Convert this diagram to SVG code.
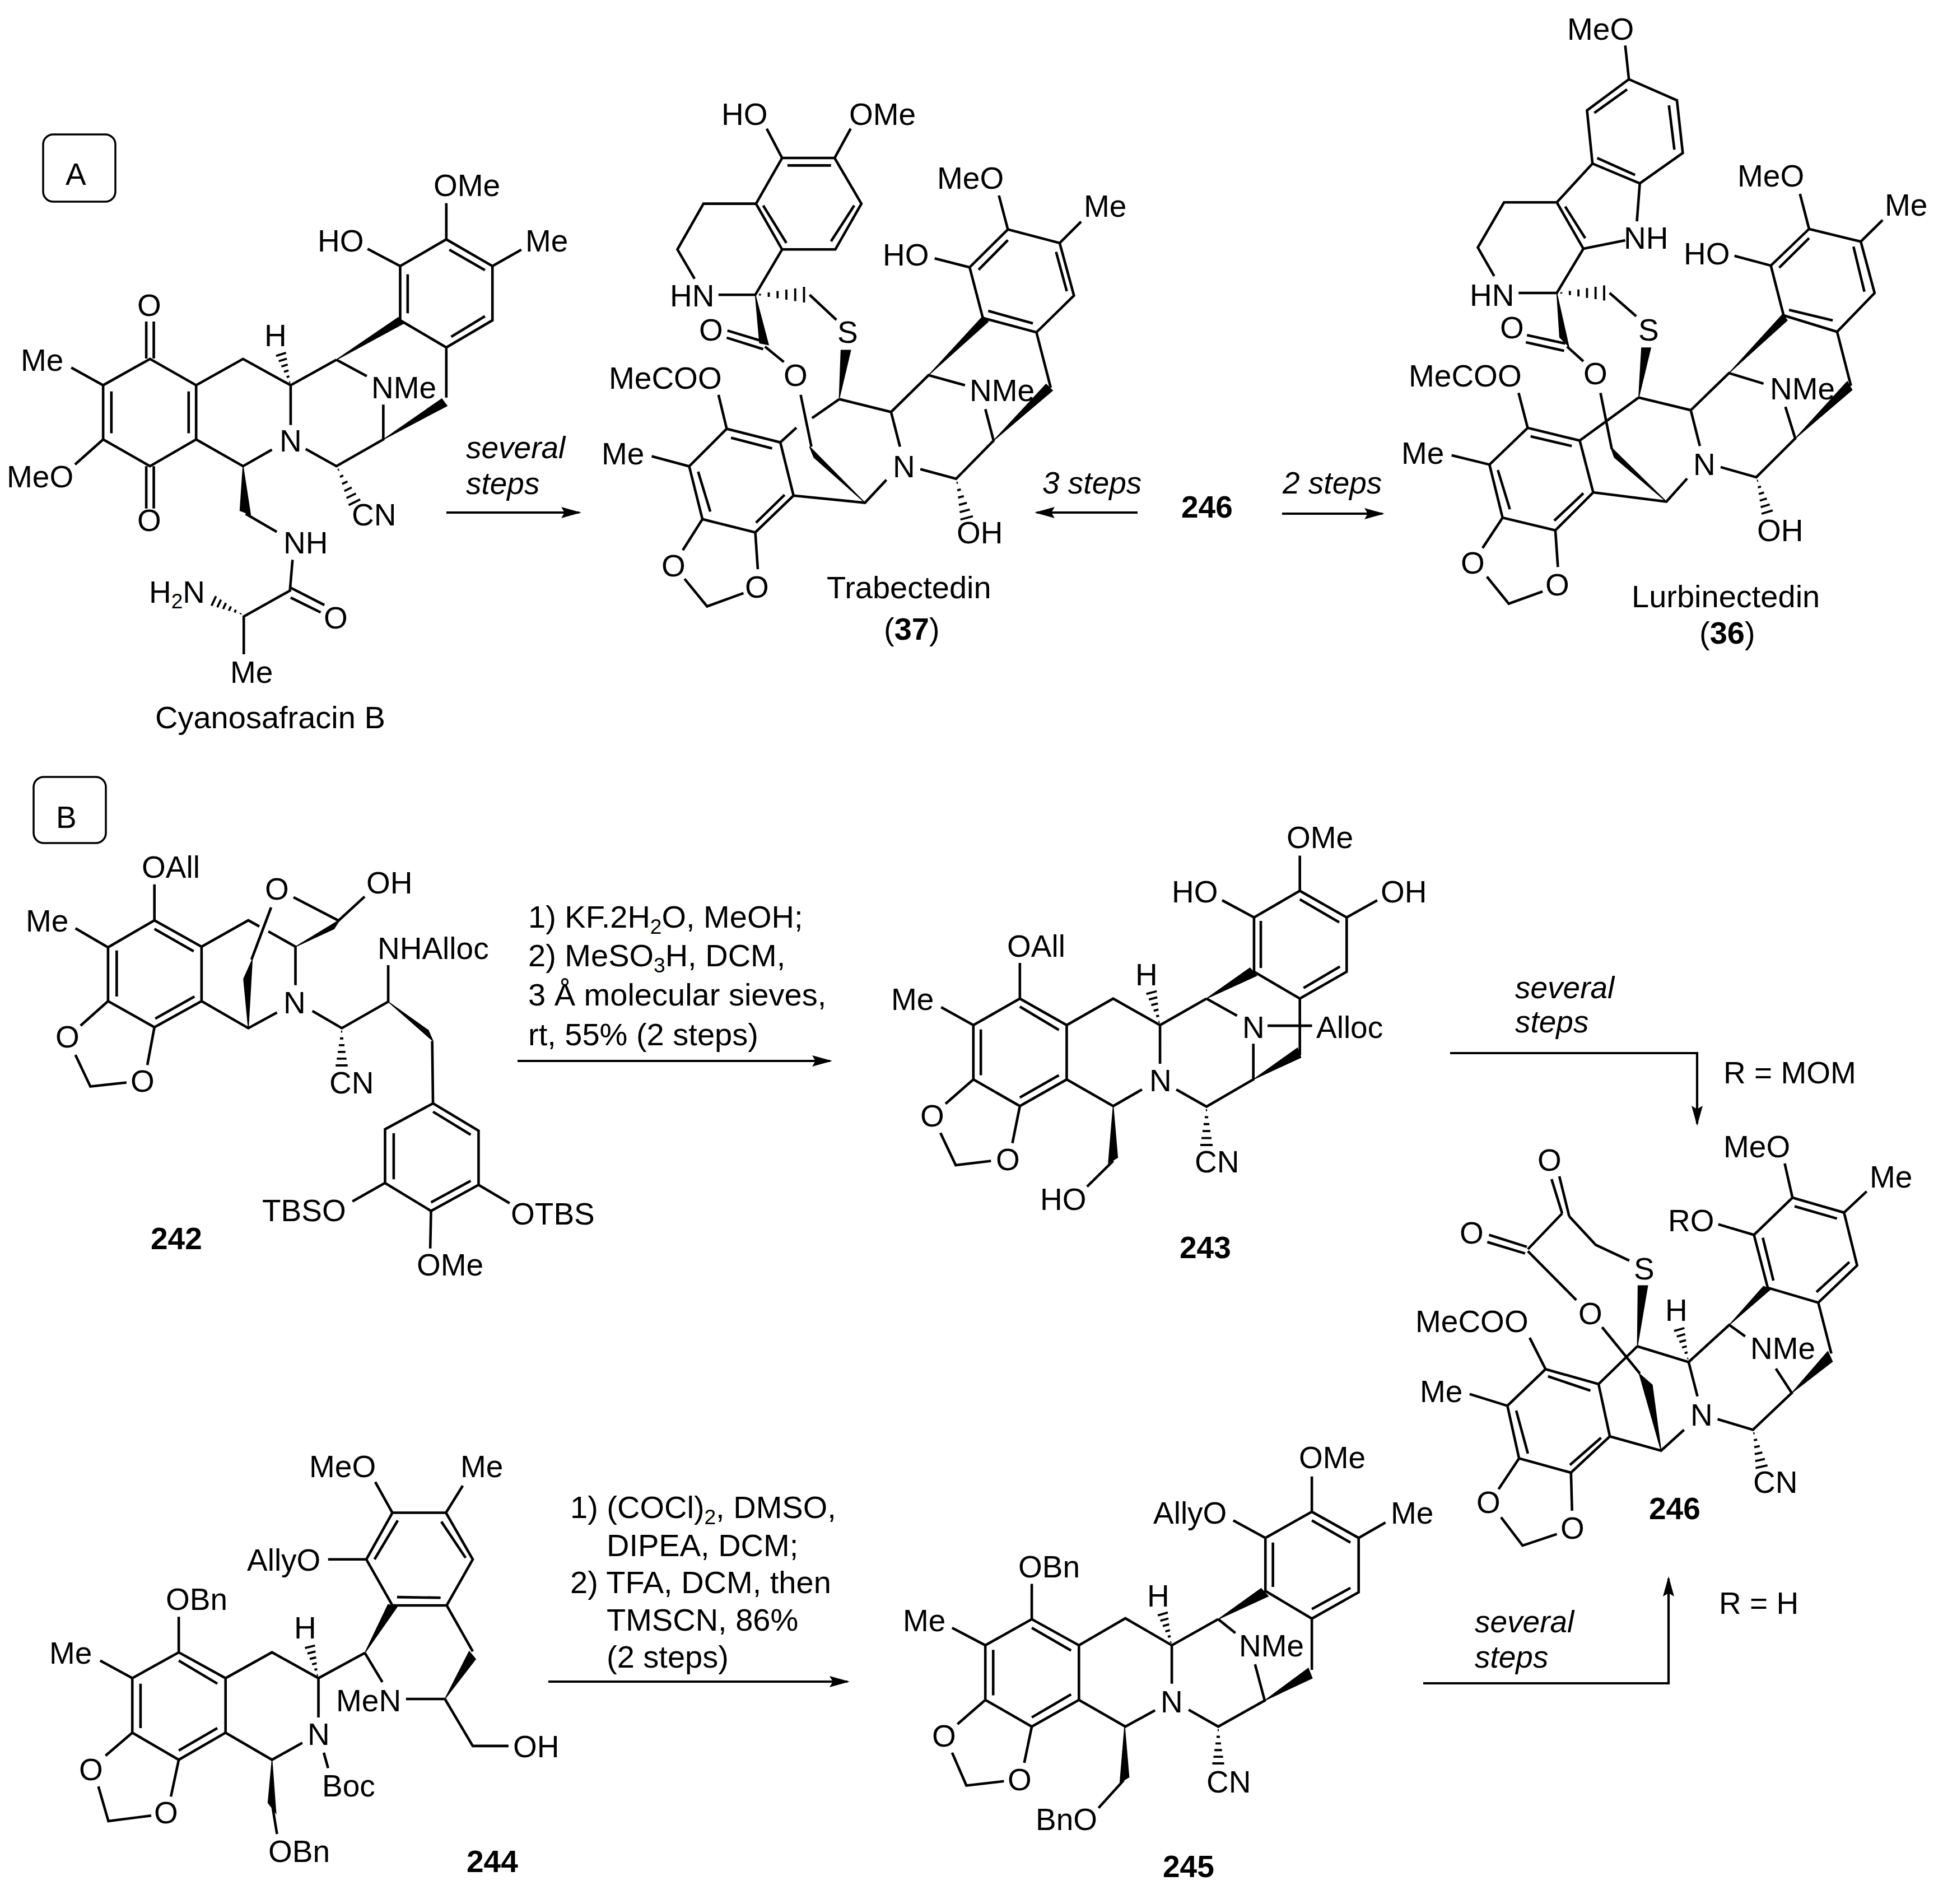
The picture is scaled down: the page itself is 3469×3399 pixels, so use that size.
<svg xmlns="http://www.w3.org/2000/svg" width="3469" height="3399" viewBox="0 0 3469 3399">
<style>
text{font-family:"Liberation Sans",Arial,sans-serif;font-size:55px;fill:#000}
.m text{transform:translate(-3px,0)}
.r{font-size:56px}
.i{font-style:italic}
.n{font-weight:bold}
.s{font-size:37px}
.b path{fill:none;stroke:#000;stroke-width:4.6;vector-effect:non-scaling-stroke}
.b polygon{fill:#000;stroke:#000;stroke-width:1.5;vector-effect:non-scaling-stroke}
.c{fill:none;stroke:#000;stroke-width:4.2}
.box{fill:#fff;stroke:#000;stroke-width:3.5}
.hl{stroke:#000;stroke-width:3.8;vector-effect:non-scaling-stroke;fill:none}
</style>
<defs>
<marker id="ah" markerUnits="userSpaceOnUse" markerWidth="38" markerHeight="22" refX="32" refY="10" orient="auto"><path d="M36 10L0 0L6 10L0 20Z" fill="#000"/></marker>
<g id="h"><path class="hl" d="M10 -1.6L10 1.6M28 -4.5L28 4.5M46 -7.4L46 7.4M64 -10.2L64 10.2M82 -13L82 13M100 -16L100 16"/></g>
</defs>
<rect width="3469" height="3399" fill="#fff"/>

<g id="panel-a"><rect class="box" x="77" y="240" width="129" height="120" rx="18"/><text x="117" y="330">A</text></g>
<g id="panel-b"><rect class="box" x="60" y="1387" width="129" height="118" rx="18"/><text x="100" y="1478">B</text></g>

<g id="connectors">
<path class="c" d="M797 915L1034 915" marker-end="url(#ah)"/>
<path class="c" d="M2031 915L1851 915" marker-end="url(#ah)"/>
<path class="c" d="M2289 917L2468 917" marker-end="url(#ah)"/>
<path class="c" d="M924 1894L1482 1894" marker-end="url(#ah)"/>
<path class="c" d="M979 3002L1513 3002" marker-end="url(#ah)"/>
<path class="c" d="M2589 1880L3030 1880L3030 2006" marker-end="url(#ah)"/>
<path class="c" d="M2541 3005L2979 3005L2979 2818" marker-end="url(#ah)"/>
</g>

<g id="step-labels">
<text class="i" x="832" y="818">several</text><text class="i" x="832" y="882">steps</text>
<text class="i" x="1861" y="881">3 steps</text>
<text class="n" x="2109" y="924">246</text>
<text class="i" x="2290" y="881">2 steps</text>
<text class="r" x="943" y="1656">1) KF.2H<tspan class="s" dy="11">2</tspan><tspan dy="-11">O, MeOH;</tspan></text>
<text class="r" x="943" y="1725">2) MeSO<tspan class="s" dy="11">3</tspan><tspan dy="-11">H, DCM,</tspan></text>
<text class="r" x="943" y="1795">3 Å molecular sieves,</text>
<text class="r" x="943" y="1866">rt, 55% (2 steps)</text>
<text class="r" x="1018" y="2710">1) (COCl)<tspan class="s" dy="11">2</tspan><tspan dy="-11">, DMSO,</tspan></text>
<text class="r" x="1083" y="2778">DIPEA, DCM;</text>
<text class="r" x="1018" y="2844">2) TFA, DCM, then</text>
<text class="r" x="1083" y="2911">TMSCN, 86%</text>
<text class="r" x="1083" y="2977">(2 steps)</text>
<text class="i" x="2705" y="1782">several</text><text class="i" x="2705" y="1843">steps</text>
<text class="i" x="2633" y="2914">several</text><text class="i" x="2633" y="2977">steps</text>
<text x="3077" y="1934">R = MOM</text>
<text x="3069" y="2881">R = H</text>
</g>

<g id="cyanosafracin-b" class="m">
<g class="b" transform="translate(0 200) scale(.6696 .7334)">
<path d="M1190 222L1190 310L1313 375L1313 507L1190 573L1067 507L1067 375L1190 310M1198 335L1293 385M1293 497L1203 547M1087 395L1087 490M980 333L1067 375M1390 335L1313 375M1190 573L1190 695M897 603L775 665L648 601L523 665L400 601L275 665L275 797L400 862L523 797L523 665M503 680L503 782M297 680L297 782M897 603L978 643M775 665L775 762M390 600L390 510M410 600L410 510M390 862L390 965M410 862L410 965M190 622L275 665M200 858L275 797M523 797L648 862L725 822M815 820L897 862L1022 797L1022 712M655 978L738 1022M780 1090L773 1165L650 1228L650 1320M775 1158L865 1200M775 1182L855 1218"/>
<polygon points="897,603 1062,500 1075,515"/><polygon points="1022,797 1178,698 1192,715"/><polygon points="648,862 640,970 668,980"/>
</g>
<use href="#h" transform="translate(519 688) rotate(252.8) scale(.58)"/>
<use href="#h" transform="translate(601 832) rotate(63.8) scale(.72)"/>
<use href="#h" transform="translate(435 1098) rotate(205.3) scale(.59)"/>
<text x="777" y="350">OMe</text><text x="570" y="449">HO</text><text x="941" y="449">Me</text><text x="248" y="564">O</text><text x="40" y="662">Me</text><text x="475" y="618">H</text><text x="666" y="711">NMe</text><text x="502" y="806">N</text><text x="15" y="870">MeO</text><text x="248" y="948">O</text><text x="631" y="938">CN</text><text x="509" y="988">NH</text>
<text x="269" y="1076">H<tspan class="s" dy="10">2</tspan><tspan dy="-10">N</tspan></text>
<text x="581" y="1122">O</text><text x="414" y="1219">Me</text><text class="r" x="280" y="1300">Cyanosafracin B</text>
</g>

<g id="trabectedin" class="m">
<g class="b" transform="translate(1050 150) scale(.6378)">
<path d="M543 207L690 207L765 335L692 463L543 463L470 335L543 207M558 228L680 228M745 340L680 440M555 445L490 340M500 125L543 207M735 125L690 207M470 335L323 335L250 463L298 545M365 590L468 590L543 463M620 590L695 660M390 690L495 722M388 710L490 742M495 735L548 778M595 870L625 1015M703 882L848 918L873 1015M703 882L627 935M583 962L538 1003M848 918L953 815L1055 843M1105 655L1068 513L1175 407L1320 445L1360 592L1255 695L1105 655M1093 520L1175 437M1310 470L1340 580M1245 670L1120 635M1150 312L1175 407M970 488L1068 513M1380 385L1320 445M1255 695L1295 850M1112 910L1135 998L1030 1105L930 1078M835 1108L775 1172L575 1152M388 965L538 1003L575 1152L468 1255L320 1218L283 1070L388 965M400 990L515 1020M550 1150L470 1228M342 1197L308 1085M365 870L388 965M178 1042L283 1070M320 1218L265 1305M468 1255L475 1358M270 1385L333 1462L435 1425"/>
<polygon points="775,1172 620,1015 632,1045"/><polygon points="468,590 480,725 505,730"/><polygon points="703,880 708,745 735,745"/><polygon points="953,815 1105,650 1120,665"/><polygon points="1135,998 1282,840 1300,858"/>
</g>
<use href="#h" transform="translate(1348 526) scale(.875)"/>
<use href="#h" transform="translate(1707 855) rotate(74.8) scale(.72)"/>
<text x="1291" y="223">HO</text><text x="1519" y="223">OMe</text><text x="1676" y="337">MeO</text><text x="1938" y="387">Me</text><text x="1579" y="474">HO</text><text x="1199" y="547">HN</text><text x="1251" y="608">O</text><text x="1498" y="612">S</text><text x="1090" y="694">MeCOO</text><text x="1402" y="689">O</text><text x="1734" y="716">NMe</text><text x="1077" y="829">Me</text><text x="1597" y="852">N</text><text x="1711" y="970">OH</text><text x="1184" y="1029">O</text><text x="1333" y="1067">O</text>
<text class="r" x="1479" y="1068">Trabectedin</text>
<text class="r" x="1581" y="1142">(<tspan class="n">37</tspan>)</text>
</g>

<g id="lurbinectedin" class="m">
<g class="b" transform="translate(2450 0) scale(.6499 .7526)">
<path d="M695 108L705 188L837 238L853 363L735 435L605 388L590 262L705 188M610 268L700 212M815 250L830 355M722 415L618 375M605 388L507 480L580 590L695 570M735 435L727 525M530 490L585 565M507 480L362 480L290 587L335 655M402 695L507 695L580 590M652 695L725 750M425 795L530 815M422 812L527 832M535 822L580 857M627 932L658 1065M732 943L875 973L900 1058M732 943L570 1045M875 973L980 885L1075 910M1130 748L1095 630L1200 543L1342 573L1380 695L1277 787L1130 748M1118 635L1200 565M1322 585L1352 692M1265 760L1145 735M1175 460L1200 543M995 607L1095 630M1402 522L1342 573M1277 787L1315 915M1135 965L1162 1040L1055 1132L957 1108M865 1135L808 1190L607 1168M427 1015L570 1045L607 1168L503 1258L358 1228L322 1102L427 1015M435 1035L548 1058M580 1170L500 1235M378 1208L345 1115M402 932L427 1015M218 1080L322 1102M358 1228L303 1300M503 1258L510 1345M315 1368L375 1432L468 1403"/>
<polygon points="808,1190 655,1060 665,1085"/><polygon points="507,695 515,800 540,822"/><polygon points="732,943 740,825 765,825"/><polygon points="980,885 1128,745 1140,760"/><polygon points="1162,1040 1305,905 1318,925"/>
</g>
<use href="#h" transform="translate(2779 523) scale(.85)"/>
<use href="#h" transform="translate(3136 852) rotate(73) scale(.65)"/>
<text x="2801" y="71">MeO</text><text x="3105" y="333">MeO</text><text x="3368" y="385">Me</text><text x="2902" y="444">NH</text><text x="3009" y="472">HO</text><text x="2627" y="546">HN</text><text x="2681" y="604">O</text><text x="2928" y="608">S</text><text x="2518" y="690">MeCOO</text><text x="2830" y="686">O</text><text x="3163" y="713">NMe</text><text x="2505" y="828">Me</text><text x="3026" y="848">N</text><text x="3140" y="966">OH</text><text x="2611" y="1024">O</text><text x="2762" y="1063">O</text>
<text class="r" x="2916" y="1084">Lurbinectedin</text>
<text class="r" x="3037" y="1149">(<tspan class="n">36</tspan>)</text>
</g>

<g id="compound-242" class="m">
<g class="b" transform="translate(0 1480) scale(.7015 .5485)">
<path d="M393 297L513 383L513 560L393 645L275 560L275 385L393 297M393 325L493 398M495 545L395 617M297 395L297 545M393 180L393 297M192 323L275 385M513 383L632 297L660 317M683 333L752 383L752 508M860 300L928 220M747 222L860 297M690 255L640 425M513 560L632 648L705 597M795 592L870 648L988 562L988 443M1100 690L1102 893L1218 982L1218 1158L1097 1243L980 1152L980 977L1102 893M1102 920L1198 995M1198 1145L1097 1215M1002 990L1002 1140M897 1212L980 1152M1218 1158L1297 1218M1097 1243L1095 1365M205 640L275 560M393 645L375 768M192 735L230 838L322 825"/>
<polygon points="752,383 865,295 850,325"/><polygon points="632,648 620,488 642,425"/><polygon points="988,562 1090,655 1102,690"/>
</g>
<use href="#h" transform="translate(610 1835) rotate(90) scale(.67)"/>
<text x="256" y="1567">OAll</text><text x="657" y="1595">OH</text><text x="49" y="1663">Me</text><text x="476" y="1606">O</text><text x="677" y="1712">NHAlloc</text><text x="509" y="1809">N</text><text x="102" y="1870">O</text><text x="591" y="1952">CN</text><text x="236" y="1949">O</text><text x="471" y="2180">TBSO</text><text x="915" y="2186">OTBS</text><text x="747" y="2277">OMe</text>
<text class="n" x="272" y="2230">242</text>
</g>

<g id="compound-243" class="m">
<g class="b" transform="translate(1550 1450) scale(.6059 .5102)">
<path d="M1272 152L1272 275L1410 368L1410 558L1272 652L1137 558L1137 368L1272 275M1272 305L1388 385M1390 540L1283 615M1157 380L1157 545M1043 308L1137 368M1500 308L1410 368M997 652L860 745L722 652L585 745L447 652L310 745L310 935L447 1028L585 935L585 745M562 762L447 680M332 760L332 920M447 998L562 920M997 652L1087 712M860 745L860 880M447 527L447 652M215 682L310 745M585 935L722 1028L807 970M908 970L997 1030L1135 935L1135 810M1177 747L1308 747M1272 652L1272 850M722 1220L645 1310M228 1020L310 935M447 1028L425 1158M213 1122L258 1235L362 1220"/>
<polygon points="997,652 1125,545 1145,572"/><polygon points="1135,935 1265,825 1275,858"/><polygon points="722,1028 708,1228 735,1208"/>
</g>
<use href="#h" transform="translate(2071 1830) rotate(255.5) scale(.6)"/>
<use href="#h" transform="translate(2154 1975) rotate(90) scale(.69)"/>
<text x="2300" y="1514">OMe</text><text x="2095" y="1611">HO</text><text x="2468" y="1611">OH</text><text x="1801" y="1708">OAll</text><text x="1594" y="1803">Me</text><text x="2030" y="1759">H</text><text x="2221" y="1853">N</text><text x="2353" y="1853">Alloc</text><text x="2055" y="1948">N</text><text x="1646" y="2011">O</text><text x="1781" y="2089">O</text><text x="2136" y="2093">CN</text><text x="1860" y="2160">HO</text>
<text class="n" x="2109" y="2246">243</text>
</g>

<g id="compound-244" class="m">
<g class="b" transform="translate(50 2540) scale(.6378 .5478)">
<path d="M1020 293L1170 293L1245 445L1172 595L1020 595L947 445L1020 293M1157 322L1225 440M1155 570L1033 568M970 445L1035 318M972 193L1020 293M1217 205L1170 293M840 445L947 445M943 750L813 832L683 748L553 832L422 748L292 832L292 1010L422 1098L553 1010L553 832M530 850L422 775M315 850L315 995M422 1068L530 995M943 750L992 845M813 832L813 960M422 632L422 748M202 775L292 832M553 1010L683 1098L768 1043M828 1075L840 1125M685 1255L697 1340M1058 900L1167 900M1172 595L1245 745M1167 900L1245 1053L1345 1053M217 1085L292 1010M422 1098L400 1218M197 1185L225 1298L345 1280"/>
<polygon points="943,750 1008,592 1033,600"/><polygon points="683,1098 672,1238 694,1272"/><polygon points="1167,900 1235,745 1253,770"/>
</g>
<use href="#h" transform="translate(568 2996) rotate(255.5) scale(.58)"/>
<text x="555" y="2637">MeO</text><text x="825" y="2637">Me</text><text x="444" y="2804">AllyO</text><text x="299" y="2874">OBn</text><text x="528" y="2925">H</text><text x="91" y="2970">Me</text><text x="603" y="3055">MeN</text><text x="552" y="3115">N</text><text x="919" y="3137">OH</text><text x="144" y="3178">O</text><text x="578" y="3207">Boc</text><text x="278" y="3255">O</text><text x="482" y="3324">OBn</text>
<text class="n" x="836" y="3342">244</text>
</g>

<g id="compound-245" class="m">
<g class="b" transform="translate(1550 2540) scale(.6378 .5478)">
<path d="M1242 175L1242 290L1373 375L1373 552L1242 638L1112 548L1112 375L1242 290M1242 318L1350 390M1350 538L1242 607M1133 390L1133 535M1022 318L1112 375M1448 325L1373 375M980 640L850 725L720 637L590 725L458 640L328 725L328 903L458 990L590 903L590 725M568 742L458 668M350 740L350 888M458 960L568 885M980 640L1028 685M850 725L850 850M458 525L458 640M235 668L328 725M590 903L720 990L803 937M897 935L980 990L1110 905L1083 787M1242 638L1242 805M715 1165L645 1255M250 982L328 903M458 990L437 1108M235 1075L275 1182L380 1168"/>
<polygon points="980,640 1100,540 1120,565"/><polygon points="1110,905 1232,800 1243,832"/><polygon points="718,990 705,1172 730,1155"/>
</g>
<use href="#h" transform="translate(2092 2937) rotate(254) scale(.58)"/>
<use href="#h" transform="translate(2175 3082) rotate(90) scale(.66)"/>
<text x="2322" y="2621">OMe</text><text x="2062" y="2720">AllyO</text><text x="2486" y="2720">Me</text><text x="1821" y="2816">OBn</text><text x="2051" y="2868">H</text><text x="1615" y="2912">Me</text><text x="2215" y="2957">NMe</text><text x="2075" y="3057">N</text><text x="1667" y="3118">O</text><text x="1802" y="3196">O</text><text x="2157" y="3200">CN</text><text x="1852" y="3267">BnO</text>
<text class="n" x="2079" y="3351">245</text>
</g>

<g id="compound-246" class="m">
<g class="b" transform="translate(2480 1980) scale(.6307 .5102)">
<path d="M460 245L490 365M482 235L510 375M490 365L393 490M283 440L390 482M278 465L385 505M393 497L530 668M510 375L585 475L680 530M603 763L710 925M703 830L848 885L873 1005M703 830L593 962M848 885L963 755L1008 795M1072 625L1033 440L1142 310L1288 362L1325 547L1215 677L1072 625M1088 600L1058 450M1148 340L1268 383M1303 535L1210 640M1120 190L1142 310M932 403L1033 440M1352 288L1288 362M1215 677L1252 855M1095 908L1140 993L1030 1122L930 1085M835 1122L770 1195L625 1145M443 910L593 962L625 1145L515 1272L368 1222L335 1038L443 910M450 935L570 985M600 1150L512 1245M393 1205L360 1055M398 800L443 910M228 997L335 1038M368 1222L310 1330M515 1272L518 1405M317 1428L378 1527L475 1487"/>
<polygon points="703,830 705,618 732,618"/><polygon points="770,1195 708,925 745,965"/><polygon points="963,755 1060,620 1080,630"/><polygon points="1140,993 1242,848 1255,883"/>
</g>
<use href="#h" transform="translate(3015 2431) rotate(253.7) scale(.6)"/>
<use href="#h" transform="translate(3130 2552) rotate(77.2) scale(.68)"/>
<text x="3080" y="2066">MeO</text><text x="3341" y="2120">Me</text><text x="2748" y="2090">O</text><text x="2609" y="2220">O</text><text x="2981" y="2198">RO</text><text x="2920" y="2284">S</text><text x="2976" y="2358">H</text><text x="2530" y="2378">MeCOO</text><text x="2821" y="2364">O</text><text x="3128" y="2426">NMe</text><text x="2538" y="2503">Me</text><text x="3021" y="2545">N</text><text x="3133" y="2665">CN</text><text x="2639" y="2701">O</text><text x="2789" y="2747">O</text>
<text class="n" x="2947" y="2712">246</text>
</g>
</svg>
